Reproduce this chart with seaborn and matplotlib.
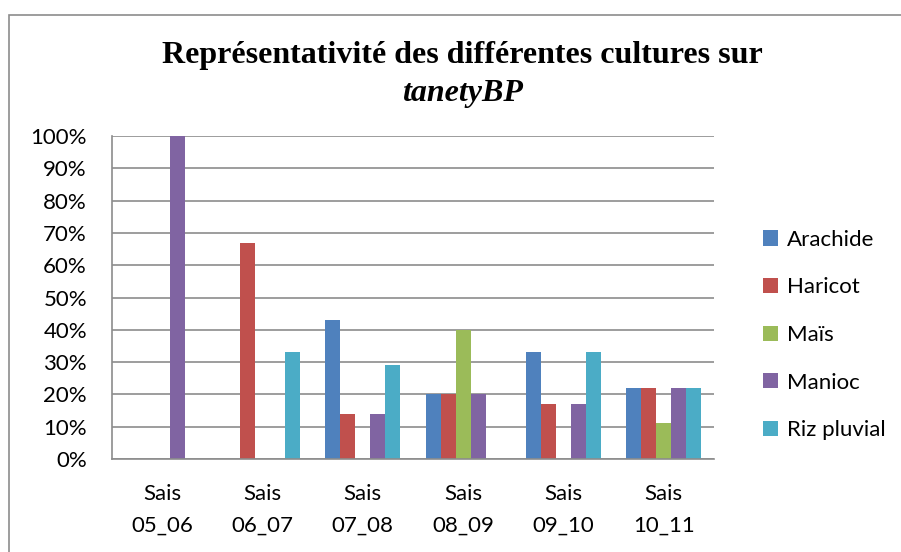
import matplotlib
matplotlib.use("Agg")
import matplotlib.pyplot as plt
import seaborn as sns
import pandas as pd
from matplotlib.patches import Rectangle, Patch
from matplotlib.ticker import PercentFormatter

seasons = ["Sais\n05_06", "Sais\n06_07", "Sais\n07_08", "Sais\n08_09", "Sais\n09_10", "Sais\n10_11"]
cultures = ["Arachide", "Haricot", "Maïs", "Manioc", "Riz pluvial"]
arachide = [0, 0, 43, 20, 33, 22]
haricot = [0, 67, 14, 20, 17, 22]
mais = [0, 0, 0, 40, 0, 11]
manioc = [100, 0, 14, 20, 17, 22]
riz = [0, 33, 29, 0, 33, 22]
colors = ["#4F81BD", "#C0504D", "#9BBB59", "#8064A2", "#4BACC6"]

series = [arachide, haricot, mais, manioc, riz]
rows = []
for c, vals in zip(cultures, series):
    for s, v in zip(seasons, vals):
        rows.append({"Saison": s, "Culture": c, "Valeur": v})
df = pd.DataFrame(rows)

sns.set_theme(style="white")
plt.rcParams["font.family"] = ["Lato", "DejaVu Sans"]
plt.rcParams["text.color"] = "black"

W, H = 901, 552
fig = plt.figure(figsize=(W / 100, H / 100), dpi=100)
ax = fig.add_axes([112 / W, (H - 459) / H, (714 - 112) / W, (459 - 136) / H])

sns.barplot(data=df, x="Saison", y="Valeur", hue="Culture", hue_order=cultures,
            order=seasons, palette=colors, saturation=1, width=0.75,
            linewidth=0, ax=ax, legend=False)

ax.set_ylim(0, 100)
ax.set_xlim(-0.5, len(seasons) - 0.5)
ax.set_yticks(range(0, 101, 10))
ax.yaxis.set_major_formatter(PercentFormatter(decimals=0))
ax.yaxis.grid(True, color="#8C8C8C", linewidth=1.2)
ax.set_axisbelow(True)
for side in ["top", "right"]:
    ax.spines[side].set_visible(False)
ax.spines["left"].set_color("#8C8C8C")
ax.spines["bottom"].set_color("#8C8C8C")
ax.spines["left"].set_linewidth(1.2)
ax.spines["bottom"].set_linewidth(1.2)
ax.set_xlabel("")
ax.set_ylabel("")
ax.tick_params(axis="y", length=0, pad=18, labelsize=16, labelcolor="black")
ax.tick_params(axis="x", length=0, pad=18, labelsize=16, labelcolor="black")
for lbl in ax.get_xticklabels():
    lbl.set_linespacing(1.72)

handles = [Patch(facecolor=c, edgecolor="none") for c in colors]
fig.legend(handles, cultures, loc="upper left", bbox_to_anchor=(754 / W, 1 - 221 / H),
           frameon=False, fontsize=16, handlelength=0.68, handleheight=0.68,
           handletextpad=0.4, labelspacing=1.24, borderaxespad=0,
           labelcolor="black")

fig.text(462 / W, 1 - 56 / H, "Représentativité des différentes cultures sur",
         ha="center", va="center", fontsize=23, fontweight="bold", color="black",
         family=["Liberation Serif", "DejaVu Serif"])
fig.text(462 / W, 1 - 93 / H, "tanetyBP", ha="center", va="center", fontsize=23,
         fontweight="bold", fontstyle="italic", color="black",
         family=["Liberation Serif", "DejaVu Serif"])

fig.patches.append(Rectangle((8.5 / W, -20 / H), (W + 10) / W, 1 + (20 - 14.5) / H,
                             transform=fig.transFigure, fill=False,
                             edgecolor="#8C8C8C", linewidth=1.2))

fig.savefig("out.png", dpi=100)
